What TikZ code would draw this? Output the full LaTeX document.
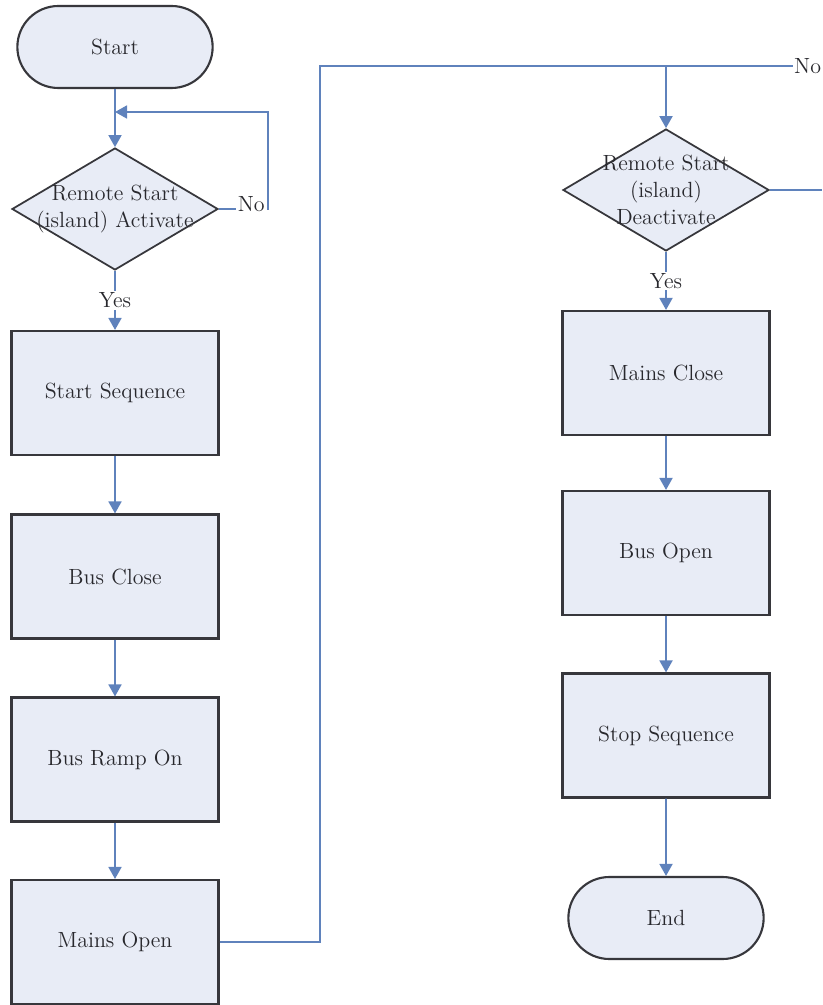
\documentclass[tikz,border=0pt]{standalone}
\usetikzlibrary{shapes.geometric,shapes.misc,arrows.meta}
\definecolor{boxfill}{RGB}{232,236,246}
\definecolor{boxline}{RGB}{55,55,60}
\definecolor{flowline}{RGB}{95,130,188}
\definecolor{txt}{RGB}{40,40,45}

\begin{document}
\begin{tikzpicture}[
  font=\fontsize{12.5}{15.5}\selectfont,
  proc/.style={draw=boxline, line width=1.2pt, fill=boxfill, text=txt, minimum width=4.14cm, minimum height=2.48cm, align=center},
  term/.style={draw=boxline, line width=1.2pt, fill=boxfill, text=txt, rounded rectangle, minimum width=4.14cm, minimum height=1.64cm},
  decision/.style={draw=boxline, line width=1pt, fill=boxfill, diamond, minimum width=4.12cm, minimum height=2.44cm, inner sep=0pt},
  decisiontext/.style={align=center, inner sep=0pt, text=txt},
  lbl/.style={fill=white, inner sep=1pt, text=txt},
  line/.style={draw=flowline, line width=1pt},
  arrow/.style={line, -{Triangle[width=0.26cm,length=0.24cm]}}
]
\useasboundingbox (0,0) rectangle (16.44,-20.10);

% left column
\node[term] (start) at (2.30,-0.94) {Start};
\node[decision] (act) at (2.30,-4.18) {};
\node[decisiontext] (acttext) at (act) {Remote Start\\(island) Activate};
\node[proc] (seq) at (2.30,-7.86) {Start Sequence};
\node[proc] (busc) at (2.30,-11.53) {Bus Close};
\node[proc] (ramp) at (2.30,-15.19) {Bus Ramp On};
\node[proc] (mopen) at (2.30,-18.84) {Mains Open};

% right column
\node[decision] (deact) at (13.32,-3.80) {};
\node[decisiontext] (deacttext) at (deact) {Remote Start\\(island)\\Deactivate};
\node[proc] (mclose) at (13.32,-7.46) {Mains Close};
\node[proc] (bopen) at (13.32,-11.06) {Bus Open};
\node[proc] (stop) at (13.32,-14.71) {Stop Sequence};
\node[term] (end) at (13.32,-18.36) {End};

\coordinate (loopr) at (5.36,-4.18);
\coordinate (join) at (2.30,-2.24);
\coordinate (riser) at (6.40,-1.32);
\coordinate (drop) at (13.32,-1.32);
\coordinate (edge) at (16.44,-3.80);
\node[inner sep=0.5pt, anchor=west, text=txt] (nolbl) at (15.86,-1.32) {No};

\draw[arrow] (start) -- (act);
\draw[arrow] (act.east) -- node[lbl, pos=0.66, yshift=3pt]{No} (loopr) |- (join);
\draw[arrow] (act) -- node[lbl]{Yes} (seq);
\draw[arrow] (seq) -- (busc);
\draw[arrow] (busc) -- (ramp);
\draw[arrow] (ramp) -- (mopen);
\draw[line] (mopen.east) -| (riser) -- (nolbl.west);
\draw[arrow] (drop) -- (deact);
\draw[line] (deact.east) -- (edge);
\draw[arrow] (deact) -- node[lbl]{Yes} (mclose);
\draw[arrow] (mclose) -- (bopen);
\draw[arrow] (bopen) -- (stop);
\draw[arrow] (stop) -- (end);
\end{tikzpicture}
\end{document}
